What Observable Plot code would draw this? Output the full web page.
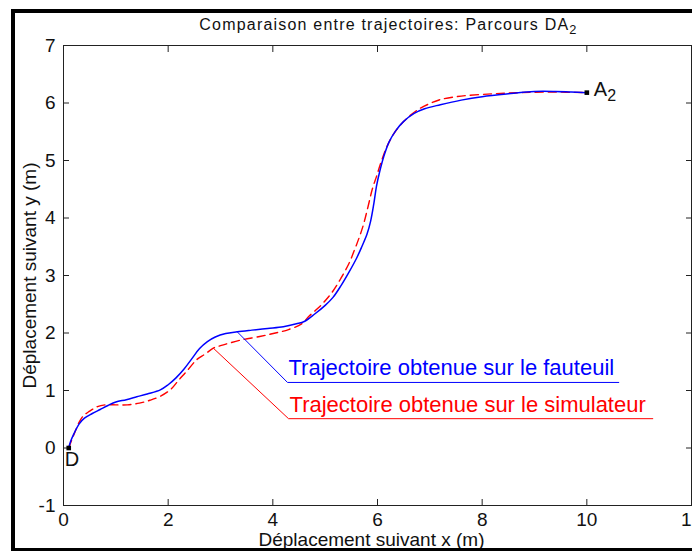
<!DOCTYPE html>
<html><head><meta charset="utf-8">
<script src="https://cdn.jsdelivr.net/npm/d3@7"></script>
<script src="https://cdn.jsdelivr.net/npm/@observablehq/plot@0.6"></script>
<style>
html,body{margin:0;padding:0;background:#fff;}
#wrap{position:relative;width:692px;height:551px;overflow:hidden;background:#fff;}
#frame{position:absolute;left:11px;top:9px;width:700px;height:535px;border-left:4px solid #000;border-top:4px solid #000;border-bottom:4px solid #000;pointer-events:none;}
</style></head><body>
<div id="wrap"><div id="chart"></div><div id="frame"></div></div>
<script>
// ---- texts ----
const titleText = "Comparaison entre trajectoires: Parcours DA₂";
const xLabel = "Déplacement suivant x (m)";
const yLabel = "Déplacement suivant y (m)";

// ---- ticks ----
const xTicks = [0, 2, 4, 6, 8, 10, 12];
const yTicks = [-1, 0, 1, 2, 3, 4, 5, 6, 7];

// ---- series: trajectory on the wheelchair (blue, solid) ----
const fauteuilX = [0.1, 0.13, 0.2, 0.3, 0.4, 0.55, 0.7, 0.85, 1.0, 1.2, 1.4, 1.6, 1.85, 2.0, 2.15, 2.3, 2.45, 2.6, 2.75, 2.9, 3.1, 3.32, 3.6, 3.9, 4.2, 4.45, 4.6, 4.8, 5.0, 5.15, 5.3, 5.45, 5.6, 5.7, 5.8, 5.87, 5.93, 5.98, 6.04, 6.12, 6.22, 6.35, 6.5, 6.7, 6.9, 7.2, 7.6, 8.0, 8.5, 9.0, 9.4, 9.7, 10.0];
const fauteuilY = [0, 0.1, 0.25, 0.42, 0.52, 0.6, 0.67, 0.74, 0.8, 0.84, 0.89, 0.94, 1.01, 1.1, 1.22, 1.37, 1.55, 1.73, 1.85, 1.93, 1.99, 2.02, 2.05, 2.08, 2.11, 2.16, 2.2, 2.33, 2.48, 2.62, 2.82, 3.05, 3.3, 3.5, 3.72, 3.95, 4.25, 4.55, 4.8, 5.07, 5.32, 5.52, 5.68, 5.82, 5.9, 5.97, 6.05, 6.11, 6.16, 6.2, 6.2, 6.19, 6.18];

// ---- series: trajectory on the simulator (red, dashed) ----
const simulateurX = [0.1, 0.15, 0.22, 0.3, 0.38, 0.5, 0.65, 0.8, 1.0, 1.22, 1.45, 1.65, 1.85, 2.05, 2.2, 2.35, 2.55, 2.7, 2.87, 3.0, 3.15, 3.4, 3.75, 4.05, 4.3, 4.55, 4.7, 4.85, 5.0, 5.15, 5.3, 5.45, 5.55, 5.65, 5.73, 5.82, 5.9, 5.98, 6.06, 6.17, 6.3, 6.45, 6.62, 6.8, 7.0, 7.2, 7.6, 8.2, 8.7, 9.3, 10.0];
const simulateurY = [0, 0.12, 0.28, 0.45, 0.56, 0.64, 0.72, 0.75, 0.75, 0.75, 0.78, 0.83, 0.9, 1.02, 1.18, 1.33, 1.54, 1.63, 1.74, 1.78, 1.82, 1.88, 1.94, 2.0, 2.06, 2.16, 2.3, 2.42, 2.56, 2.73, 2.95, 3.2, 3.42, 3.66, 3.88, 4.2, 4.5, 4.72, 4.95, 5.22, 5.45, 5.63, 5.78, 5.9, 5.99, 6.06, 6.12, 6.16, 6.18, 6.19, 6.18];

// ---- annotation leaders and labels ----
const legendLabels = ["Trajectoire obtenue sur le fauteuil", "Trajectoire obtenue sur le simulateur"];
const legendColors = ["#0000ff", "#ff0000"];
const leaderFauteuilX = [3.32, 4.28, 10.61];
const leaderFauteuilY = [2.02, 1.14, 1.14];
const leaderSimulateurX = [2.87, 4.3, 11.26];
const leaderSimulateurY = [1.73, 0.51, 0.51];

// ---- endpoints ----
const endpointNames = ["D", "A₂"];
const endpointX = [0.1, 10.0];
const endpointY = [0, 6.18];

const toRows = (xs, ys) => xs.map((x, i) => ({x, y: ys[i]}));
const fauteuil = toRows(fauteuilX, fauteuilY);
const simulateur = toRows(simulateurX, simulateurY);
const leaderF = toRows(leaderFauteuilX, leaderFauteuilY);
const leaderS = toRows(leaderSimulateurX, leaderSimulateurY);
const legendRows = [
  {label: legendLabels[0], x: leaderFauteuilX[1], y: leaderFauteuilY[1], c: legendColors[0]},
  {label: legendLabels[1], x: leaderSimulateurX[1], y: leaderSimulateurY[1], c: legendColors[1]}
];
const endpoints = endpointNames.map((name, i) => ({name, x: endpointX[i], y: endpointY[i]}));
const intFmt = d => String(d);

const chart = Plot.plot({
  width: 692, height: 551,
  marginLeft: 63, marginRight: 1, marginTop: 45, marginBottom: 46,
  x: {domain: [0, 12]},
  y: {domain: [-1, 7]},
  style: {fontFamily: "'Liberation Sans', Arial, sans-serif", fontSize: "19px", color: "#111", background: "#fff"},
  marks: [
    Plot.frame({stroke: "#222", strokeWidth: 1}),
    Plot.axisX(xTicks, {anchor: "bottom", tickSize: -6, tickPadding: 13, tickFormat: intFmt, label: null, stroke: "#222"}),
    Plot.axisX(xTicks, {anchor: "top", tickSize: -6, tickFormat: () => "", label: null, stroke: "#222"}),
    Plot.axisY(yTicks, {anchor: "left", tickSize: -6, tickPadding: 14, tickFormat: intFmt, label: null, stroke: "#222"}),
    Plot.axisY(yTicks, {anchor: "right", tickSize: -6, tickFormat: () => "", label: null, stroke: "#222"}),
    Plot.line(simulateur, {x: "x", y: "y", stroke: "#ff0000", strokeWidth: 1.4, strokeDasharray: "8,5", curve: "catmull-rom"}),
    Plot.line(fauteuil, {x: "x", y: "y", stroke: "#0000ff", strokeWidth: 1.5, curve: "catmull-rom"}),
    Plot.line(leaderF, {x: "x", y: "y", stroke: legendColors[0], strokeWidth: 1}),
    Plot.line(leaderS, {x: "x", y: "y", stroke: legendColors[1], strokeWidth: 1}),
    Plot.text(legendRows, {x: "x", y: "y", text: "label", fill: "c", textAnchor: "start", lineAnchor: "bottom", dx: 1, dy: -7, fontSize: 22}),
    Plot.dot(endpoints, {x: "x", y: "y", symbol: "square", r: 2.6, fill: "#000", stroke: null}),
    Plot.text(endpoints.filter(d => d.name === "D"), {x: "x", y: "y", text: "name", textAnchor: "start", lineAnchor: "top", dx: -4, dy: 4, fontSize: 20, fill: "#111"}),
    Plot.text(endpoints.filter(d => d.name !== "D"), {x: "x", y: "y", text: "name", textAnchor: "start", lineAnchor: "middle", dx: 7, dy: -3, fontSize: 20, fill: "#111"}),
    Plot.text([titleText], {frameAnchor: "top", dx: 11, dy: -21, textAnchor: "middle", lineAnchor: "middle", fontSize: 16, fill: "#111"}),
    Plot.text([xLabel], {frameAnchor: "bottom", dx: -6, dy: 34, textAnchor: "middle", lineAnchor: "middle", fontSize: 19, fill: "#111"}),
    Plot.text([yLabel], {frameAnchor: "left", dx: -34, rotate: -90, textAnchor: "middle", lineAnchor: "middle", fontSize: 19, fill: "#111"})
  ]
});
document.getElementById("chart").appendChild(chart);

// subscripts and title letter spacing
d3.select(chart).selectAll("text").each(function() {
  const t = this.textContent;
  if (t.includes("₂") && this.childElementCount === 0) {
    this.textContent = t.replace("₂", "");
    d3.select(this).append("tspan").attr("dy", "0.32em").attr("font-size", "0.8em").text("2");
  }
  if (t.startsWith("Comparaison")) {
    this.style.letterSpacing = "1.2px";
  }
});
</script>
</body></html>
